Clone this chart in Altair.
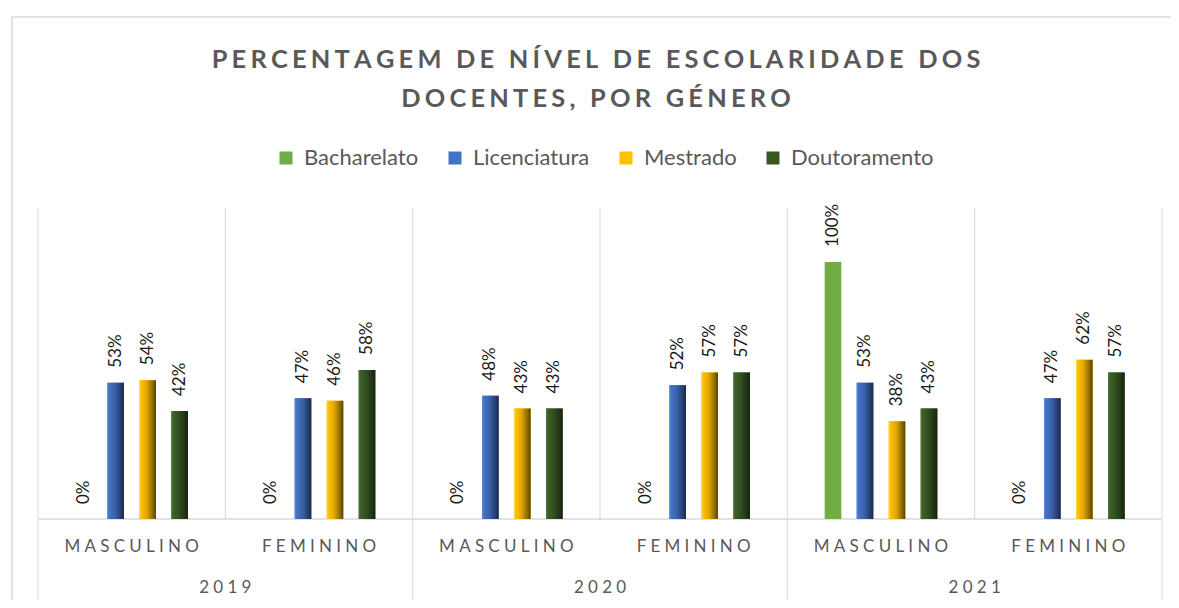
import altair as alt
import pandas as pd

# ---------------- data ----------------
years = ["2019", "2019", "2020", "2020", "2021", "2021"]
genders = ["MASCULINO", "FEMININO", "MASCULINO", "FEMININO", "MASCULINO", "FEMININO"]
levels = ["Bacharelato", "Licenciatura", "Mestrado", "Doutoramento"]
bacharelato = [0.00, 0.00, 0.00, 0.00, 1.00, 0.00]
licenciatura = [0.53, 0.47, 0.48, 0.52, 0.53, 0.47]
mestrado = [0.54, 0.46, 0.43, 0.57, 0.38, 0.62]
doutoramento = [0.42, 0.58, 0.43, 0.57, 0.43, 0.57]
colors = ["#70AD47", "#4472C4", "#FFC000", "#385723"]
title_lines = ["PERCENTAGEM DE NÍVEL DE ESCOLARIDADE DOS", "DOCENTES, POR GÉNERO"]

# gradient (bevel) colours for the shaded series
bevels = {
    "Licenciatura": ["#5d8ad8", "#4472C4", "#3a62ab", "#263f70", "#18284a"],
    "Mestrado": ["#ffd451", "#FFC000", "#dfa700", "#8f6b00", "#574100"],
    "Doutoramento": ["#52783a", "#3d5f27", "#324f1f", "#213515", "#15220c"],
}

cats = [f"{y}|{g}" for y, g in zip(years, genders)]
series = dict(zip(levels, [bacharelato, licenciatura, mestrado, doutoramento]))
rows = []
for lvl, vals in series.items():
    for c, y, g, v in zip(cats, years, genders, vals):
        rows.append({"cat": c, "year": y, "gender": g, "level": lvl, "value": v})
df = pd.DataFrame(rows)

SP_CAT = "\u2005"
SP_TITLE = "\u2006"
gender_df = pd.DataFrame({"cat": cats, "label": [SP_CAT.join(g) for g in genders]})
first_cats = [c for c, g in zip(cats, genders) if g == "MASCULINO"]
first_years = [y for y, g in zip(years, genders) if g == "MASCULINO"]
year_df = pd.DataFrame({"cat": first_cats, "label": [SP_CAT.join(y) for y in first_years]})
last_df = pd.DataFrame({"cat": [cats[-1]]})
title_text = [SP_TITLE.join(t) for t in title_lines]

W, H = 1124, 311
GRID = "#d9d9d9"
TXT = "#595959"
FONT = "Lato"

xs = alt.Scale(domain=cats, paddingInner=0, paddingOuter=0)
xoff_domain = ["_l"] + levels + ["_r"]
xo = alt.Scale(domain=xoff_domain, paddingInner=0.48, paddingOuter=0.167)
ys = alt.Scale(domain=[0, 1.21], nice=False)

X = alt.X("cat:N", scale=xs, axis=None, sort=cats)
XO = alt.XOffset("level:N", scale=xo, sort=xoff_domain)
Y = alt.Y("value:Q", scale=ys, axis=None)

frame = alt.Chart(pd.DataFrame({"k": [0]})).mark_rect(
    filled=False, stroke=GRID, strokeWidth=1.5
).encode(x=alt.value(-26), x2=alt.value(1300), y=alt.value(-191), y2=alt.value(500))

gender_sep = alt.Chart(pd.DataFrame({"cat": first_cats})).mark_rule(
    color=GRID, strokeWidth=1
).encode(x=alt.X("cat:N", scale=xs, axis=None, bandPosition=1), y=alt.value(0), y2=alt.value(H))

year_sep = alt.Chart(pd.DataFrame({"cat": first_cats})).mark_rule(
    color=GRID, strokeWidth=1
).encode(x=alt.X("cat:N", scale=xs, axis=None, bandPosition=0), y=alt.value(0), y2=alt.value(392))

end_sep = alt.Chart(last_df).mark_rule(color=GRID, strokeWidth=1).encode(
    x=alt.X("cat:N", scale=xs, axis=None, bandPosition=1), y=alt.value(0), y2=alt.value(392)
)

baseline = alt.Chart(pd.DataFrame({"k": [0]})).mark_rule(color=GRID, strokeWidth=1.5).encode(
    x=alt.value(0), x2=alt.value(W), y=alt.value(H)
)

bars = alt.Chart(df).mark_bar().encode(
    x=X,
    xOffset=XO,
    y=Y,
    color=alt.Color(
        "level:N",
        scale=alt.Scale(domain=levels, range=colors),
        legend=alt.Legend(
            title=None,
            orient="none",
            legendX=237,
            legendY=-61,
            direction="horizontal",
            symbolType="square",
            symbolSize=169,
            symbolStrokeWidth=0,
            labelFont=FONT,
            labelFontSize=22,
            labelColor=TXT,
            columnPadding=25,
            labelOffset=7,
            padding=0,
        ),
    ),
)

overlays = []
for lvl, cs in bevels.items():
    grad = alt.Gradient(
        gradient="linear",
        x1=0, x2=1, y1=0, y2=0,
        stops=[
            alt.GradientStop(offset=0.0, color=cs[0]),
            alt.GradientStop(offset=0.12, color=cs[1]),
            alt.GradientStop(offset=0.45, color=cs[2]),
            alt.GradientStop(offset=0.8, color=cs[3]),
            alt.GradientStop(offset=1.0, color=cs[4]),
        ],
    )
    overlays.append(
        alt.Chart(df).transform_filter(alt.datum.level == lvl).mark_bar(fill=grad).encode(
            x=X, xOffset=XO, y=Y
        )
    )

labels = alt.Chart(df).mark_text(
    angle=270, align="left", baseline="middle", dx=15, font=FONT, fontSize=17, color="#1a1a1a"
).encode(x=X, xOffset=XO, y=Y, text=alt.Text("value:Q", format=".0%"))

gender_labels = alt.Chart(gender_df).mark_text(
    font=FONT, fontSize=17, color=TXT, baseline="middle"
).encode(x=alt.X("cat:N", scale=xs, axis=None), y=alt.value(339), text="label:N")

year_labels = alt.Chart(year_df).mark_text(
    font=FONT, fontSize=17, color=TXT, baseline="middle"
).encode(x=alt.X("cat:N", scale=xs, axis=None, bandPosition=1), y=alt.value(380), text="label:N")

chart = alt.layer(
    frame, gender_sep, year_sep, end_sep, baseline, bars, *overlays, labels, gender_labels, year_labels
).properties(
    width=W,
    height=H,
    autosize=alt.AutoSizeParams(type="none"),
    padding={"left": 30, "top": 200, "right": 9, "bottom": 81},
    title=alt.TitleParams(
        text=title_text,
        font=FONT,
        fontSize=25.4,
        fontWeight="bold",
        color=TXT,
        anchor="middle",
        frame="group",
        offset=-96,
        dx=-4,
        lineHeight=39,
    ),
).configure_view(strokeWidth=0)

chart.save("out.html", embed_options={"renderer": "svg", "actions": False})
